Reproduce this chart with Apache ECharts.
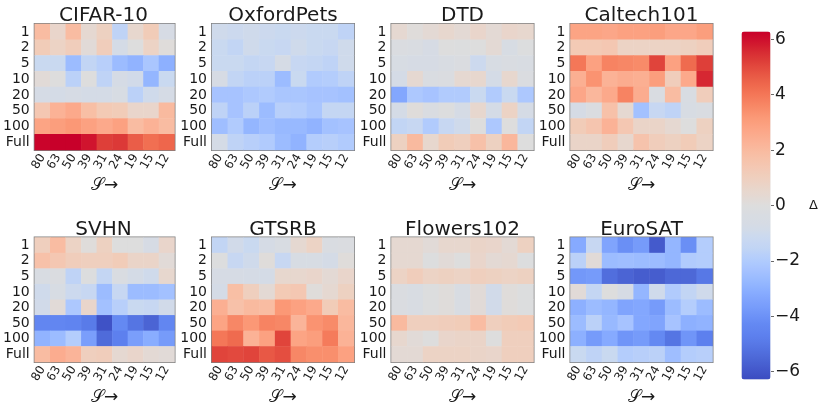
<!DOCTYPE html>
<html>
<head>
  <meta charset="UTF-8">
  <title>Delta heatmaps</title>
  <script src="https://cdn.jsdelivr.net/npm/echarts@6/dist/echarts.min.js"></script>
  <style>
    html, body { margin: 0; padding: 0; background: #fff; }
    #main { width: 822px; height: 407px; }
  </style>
</head>
<body>
<div id="main"></div>
<script type="text/javascript">
  var sizes = ['80', '63', '50', '39', '31', '24', '19', '15', '12'];
  var fractions = ['1', '2', '5', '10', '20', '50', '100', 'Full'];
  var names = ['CIFAR-10', 'OxfordPets', 'DTD', 'Caltech101', 'SVHN', 'GTSRB', 'Flowers102', 'EuroSAT'];

  var cifar = [
    [1.9, 0.6, 1.9, 0.4, 0.9, -1.6, 0.5, 1.2, -0.6],
    [1.2, 0.8, 1.1, 0.2, 1.1, -0.8, 0.0, 0.8, 0.1],
    [-1.2, -1.2, -2.6, -1.5, -1.8, -2.6, -2.9, -2.2, -3.0],
    [0.2, 0.0, -1.7, 0.0, -1.6, -0.7, -0.9, -2.8, -1.2],
    [-0.7, -0.8, -0.6, -0.8, -0.8, -0.5, -1.7, -1.0, -0.7],
    [1.4, 2.3, 2.6, 1.8, 1.3, 1.2, 0.6, 0.6, 2.0],
    [2.8, 3.0, 3.2, 2.9, 2.6, 2.9, 1.9, 2.3, 1.9],
    [6.2, 6.3, 6.3, 5.9, 5.2, 5.3, 4.6, 4.2, 4.4]
  ];
  var oxford = [
    [-1.0, -1.1, -1.0, -1.1, -1.2, -1.1, -1.2, -1.2, -1.6],
    [-1.2, -1.5, -1.0, -1.2, -1.3, -1.0, -1.2, -1.3, -1.0],
    [-1.2, -1.2, -1.4, -1.3, -0.7, -1.3, -1.4, -1.6, -1.0],
    [-0.6, -1.5, -1.7, -1.7, -2.6, -1.2, -2.0, -1.9, -1.6],
    [-2.3, -2.3, -2.1, -2.0, -2.2, -2.2, -2.3, -2.3, -2.4],
    [-1.6, -2.3, -1.7, -2.6, -1.8, -1.9, -2.2, -1.4, -1.4],
    [-2.5, -2.0, -2.8, -2.5, -2.7, -2.7, -2.9, -2.4, -2.3],
    [-0.8, -1.6, -1.8, -2.0, -2.6, -2.9, -1.9, -1.8, -2.0]
  ];
  var dtd = [
    [0.4, 0.1, 0.3, 0.5, 0.3, 0.6, 0.3, 0.6, 0.5],
    [-0.2, -0.3, -0.6, 0.0, -0.1, 0.0, 0.3, -0.5, -0.1],
    [-0.5, -0.6, -0.6, -0.4, -0.2, -1.1, -0.5, -0.3, -0.4],
    [-0.8, 0.4, -0.3, -0.2, 0.4, 0.5, -0.8, 0.5, -0.2],
    [-3.3, -2.1, -2.3, -2.0, -2.0, -1.2, -2.0, -1.2, -2.1],
    [-0.8, 0.1, -0.3, -0.1, -0.7, 0.5, -0.8, 0.8, -0.7],
    [-1.5, -1.3, -2.0, -1.3, -1.0, 0.0, -2.1, 0.0, -1.5],
    [0.9, 2.0, 0.5, 1.2, 1.0, 1.7, 0.9, 2.1, 0.0]
  ];
  var caltech = [
    [2.8, 2.8, 2.7, 2.9, 2.9, 3.0, 2.7, 2.7, 3.0],
    [1.3, 1.3, 1.4, 0.8, 0.8, 0.8, 0.8, 0.9, 1.1],
    [4.0, 2.9, 3.7, 3.6, 3.5, 5.1, 2.9, 4.3, 5.2],
    [2.4, 3.3, 2.3, 2.5, 2.4, 3.0, 1.1, 2.6, 5.6],
    [2.7, 2.1, 2.6, 3.7, 2.5, -0.3, 1.9, -0.4, 1.1],
    [-0.7, -0.2, 1.7, 0.4, -2.4, -1.3, -1.6, -0.5, -0.3],
    [1.2, 1.5, 2.3, 1.4, 0.7, 0.7, 0.4, 0.0, 0.9],
    [0.7, 0.7, 1.1, 0.5, 1.6, 1.1, 0.9, 1.2, 0.8]
  ];
  var svhn = [
    [1.0, 1.9, 0.8, 0.1, 0.9, 0.0, 0.0, -0.6, 0.6],
    [1.7, 1.4, 1.1, 1.0, 1.0, 1.2, 0.7, 0.7, 0.2],
    [-0.4, -0.2, -1.6, -0.1, -1.4, -0.3, -0.8, -1.0, 0.5],
    [-1.0, -0.5, -1.1, -1.3, -2.6, -1.3, -2.6, -2.6, -2.4],
    [-0.9, 0.2, -2.1, 0.6, -2.4, -1.8, -1.2, -1.3, -0.9],
    [-4.4, -4.4, -4.5, -4.9, -6.1, -4.3, -5.1, -5.6, -4.4],
    [-2.9, -2.6, -1.9, -3.6, -5.4, -4.7, -3.6, -3.1, -3.7],
    [1.9, 2.5, 2.2, 1.0, 1.1, 0.4, 0.6, 0.3, 0.2]
  ];
  var gtsrb = [
    [-1.5, -0.9, -1.2, -0.7, -0.4, 0.4, 0.8, -0.3, -0.2],
    [-0.1, -1.3, -1.0, 0.1, -1.3, -0.5, -0.5, -0.8, 0.1],
    [-0.6, -0.6, -0.7, -0.8, 0.5, 0.5, 0.6, 0.3, 0.6],
    [-0.8, 1.8, 1.0, 0.3, 1.3, 1.4, 0.1, 0.4, 0.9],
    [2.4, 1.7, 2.0, 1.9, 3.2, 2.9, 2.6, 1.2, 1.9],
    [2.8, 3.6, 3.2, 3.7, 3.6, 2.2, 3.3, 3.5, 2.1],
    [4.0, 4.3, 2.3, 2.9, 5.1, 2.8, 3.0, 3.9, 2.3],
    [5.1, 5.0, 5.1, 4.7, 4.9, 3.6, 3.4, 3.4, 2.9]
  ];
  var flowers = [
    [0.4, 0.4, 0.2, 0.5, 0.5, 0.7, 0.6, 0.3, 0.9],
    [0.4, 0.4, -0.1, 0.2, 0.0, 0.6, 0.3, 0.4, -0.1],
    [0.8, 1.1, 0.8, 0.9, 0.8, 1.0, 0.9, 0.8, 0.9],
    [-0.2, -0.4, -0.1, 0.1, -0.4, 0.2, -0.9, 0.1, -0.1],
    [-0.2, -0.4, -0.1, 0.1, -0.4, 0.2, -0.9, 0.1, -0.1],
    [2.0, 1.0, 1.0, 1.1, 1.2, 1.9, 1.0, 1.2, 1.3],
    [0.5, 0.2, 0.0, 0.6, 0.7, 0.7, 0.0, 1.0, 1.0],
    [0.3, 0.3, 0.8, 0.8, 0.8, 0.7, 0.6, 1.0, 1.0]
  ];
  var eurosat = [
    [-3.2, -1.3, -3.4, -4.1, -3.7, -5.9, -2.8, -4.1, -1.9],
    [-1.7, 0.2, -2.6, -2.5, -2.6, -2.6, -2.8, -2.0, -1.9],
    [-3.8, -3.7, -5.3, -5.6, -5.8, -5.8, -5.5, -5.5, -5.0],
    [0.2, -1.4, 0.0, -0.6, -2.8, -1.0, -2.0, -1.5, -1.0],
    [-3.0, -2.6, -2.8, -3.4, -3.3, -3.7, -2.6, -1.9, -2.6],
    [-2.6, -1.7, -2.7, -2.3, -3.3, -3.4, -2.3, -3.0, -2.9],
    [-3.0, -3.7, -3.2, -3.9, -3.7, -4.3, -5.1, -3.9, -4.7],
    [-1.2, -1.6, -1.2, -1.9, -1.8, -1.7, -2.5, -1.9, -1.8]
  ];
  var panels = [cifar, oxford, dtd, caltech, svhn, gtsrb, flowers, eurosat];

  var colorTicks = [-6, -4, -2, 0, 2, 4, 6];
  var coolwarm = [
    '#3b4cc0', '#445acc', '#4d68d7', '#5575e3', '#5d80ee', '#6388f2', '#6f94f8', '#7ca0fc',
    '#88acff', '#96b8ff', '#a5c2ff', '#b2ccfd', '#c0d4f5', '#cad9f0', '#d4dbe6', '#d8dce2',
    '#dddddd', '#e5d8d1', '#ecd3c5', '#f1ccb9', '#f6c4ad', '#f9bba0', '#fbb094', '#fca586',
    '#fb9a78', '#f88a68', '#f57a5a', '#ef6a4e', '#e85845', '#e0443b', '#d82e33', '#d0152e', '#c8002a'
  ];

  var FONT = 'DejaVu Sans';
  var lefts = [32.5, 212, 391.5, 570.5];
  var tops = [24, 237.5];
  var W = 142, H = 126;

  var grids = [], xAxes = [], yAxes = [], series = [], titles = [];
  panels.forEach(function (rows, p) {
    var left = lefts[p % 4], top = tops[p < 4 ? 0 : 1];
    var cells = [];
    rows.forEach(function (row, r) {
      row.forEach(function (v, c) { cells.push([c, r, v]); });
    });
    grids.push({ left: left, top: top, width: W, height: H, show: true, borderColor: '#808080', borderWidth: 2, backgroundColor: 'transparent' });
    xAxes.push({
      type: 'category', gridIndex: p, data: sizes, position: 'bottom',
      name: '\uD835\uDCAE\u2192', nameLocation: 'middle', nameGap: 27,
      nameTextStyle: { fontFamily: 'DejaVu Sans', fontSize: 17, color: '#1a1a1a' },
      axisLine: { show: false }, splitLine: { show: false },
      axisTick: { alignWithLabel: true, length: 3, lineStyle: { color: '#444', width: 0.8 } },
      axisLabel: { rotate: 60, fontFamily: FONT, fontSize: 12, color: '#1a1a1a', margin: 5, interval: 0 }
    });
    yAxes.push({
      type: 'category', gridIndex: p, data: fractions, inverse: true,
      axisLine: { show: false }, splitLine: { show: false },
      axisTick: { alignWithLabel: true, length: 3, lineStyle: { color: '#444', width: 0.8 } },
      axisLabel: { fontFamily: FONT, fontSize: 14, color: '#1a1a1a', margin: 5, interval: 0 }
    });
    series.push({
      type: 'heatmap', xAxisIndex: p, yAxisIndex: p, data: cells,
      progressive: 0, animation: false, emphasis: { disabled: true }
    });
    titles.push({
      text: names[p], left: left + W / 2, top: top - 18, textAlign: 'center', padding: 0,
      textStyle: { fontFamily: FONT, fontSize: 20, fontWeight: 'normal', color: '#1a1a1a' }
    });
  });

  // colorbar tick labels come from an empty axis sitting on the visualMap strip
  grids.push({ left: 771, top: 31.5, width: 0.01, height: 348 });
  xAxes.push({ type: 'value', gridIndex: 8, show: false });
  yAxes.push({
    type: 'value', gridIndex: 8, position: 'right', min: -6.28, max: 6.28,
    name: '\u0394', nameLocation: 'middle', nameGap: 38, nameRotate: 0,
    nameTextStyle: { fontFamily: FONT, fontSize: 13, color: '#1a1a1a' },
    axisLine: { show: false }, splitLine: { show: false },
    axisTick: { show: true, length: 3, customValues: colorTicks, lineStyle: { color: '#444', width: 0.8 } },
    axisLabel: {
      customValues: colorTicks, fontFamily: FONT, fontSize: 17, color: '#1a1a1a', margin: 4,
      formatter: function (v) { return String(v).replace('-', '\u2212'); }
    }
  });
  series.push({ type: 'line', xAxisIndex: 8, yAxisIndex: 8, data: [], silent: true });

  var myChart = echarts.init(document.getElementById('main'), null, { renderer: 'canvas' });
  myChart.setOption({
    animation: false,
    backgroundColor: '#fff',
    title: titles,
    grid: grids,
    xAxis: xAxes,
    yAxis: yAxes,
    tooltip: { show: false },
    visualMap: {
      type: 'continuous', min: -6.28, max: 6.28, seriesIndex: [0, 1, 2, 3, 4, 5, 6, 7],
      left: 741.5, top: 31.5, itemWidth: 29, itemHeight: 348, padding: 0,
      calculable: false, realtime: false, text: null, showLabel: false, hoverLink: false,
      inRange: { color: coolwarm }
    },
    series: series
  });
</script>
</body>
</html>
